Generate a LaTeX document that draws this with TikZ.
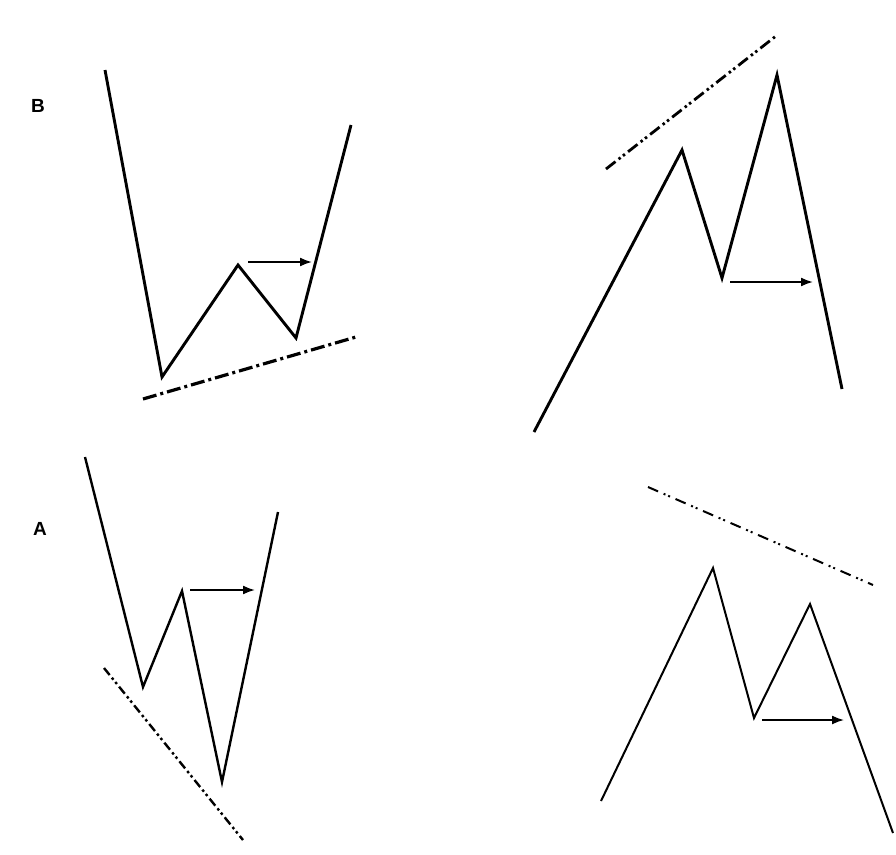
\documentclass[tikz,border=0pt]{standalone}
\usepackage{fontspec}
\setmainfont{Liberation Sans}
\usetikzlibrary{arrows.meta}
\begin{document}
\begin{tikzpicture}[x=1pt,y=-1pt,
  thick line/.style={line width=2.9pt,line join=miter,black},
  thin line/.style={line width=2.0pt,line join=miter,black},
  move arrow/.style={line width=1.8pt,-{Latex[length=12pt,width=9pt]}},
  ddot1/.style={line width=3.2pt,dash pattern=on 14pt off 4pt on 3pt off 4pt},
  ddot2/.style={line width=2.8pt,dash pattern=on 12pt off 4pt on 2.5pt off 3pt on 2.5pt off 4pt},
  ddot3/.style={line width=2.4pt,dash pattern=on 9pt off 3.5pt on 2.5pt off 3pt on 2.5pt off 3.5pt},
  ddot4/.style={line width=2.0pt,dash pattern=on 11pt off 6pt on 2pt off 3pt on 2pt off 6pt},
  lbl/.style={font=\bfseries\fontsize{19}{22}\selectfont,inner sep=0pt}]
\useasboundingbox (0,0) rectangle (896,854);
\fill[white] (0,0) rectangle (896,854);

% Panel B
\node[lbl] (labB) at (38,106) {B};
\coordinate (b1) at (105,70);
\coordinate (b2) at (162,377);
\coordinate (b3) at (238,265);
\coordinate (b4) at (296,338);
\coordinate (b5) at (351,125);
\draw[thick line] (b1) -- (b2) -- (b3) -- (b4) -- (b5);
\coordinate (ba1) at (248,262);
\coordinate (ba2) at (312,262);
\draw[move arrow] (ba1) -- (ba2);
\coordinate (bl1) at (143,399);
\coordinate (bl2) at (356,337);
\draw[ddot1] (bl1) -- (bl2);

% Top right panel
\coordinate (c1) at (534,432);
\coordinate (c2) at (682,150);
\coordinate (c3) at (722,278);
\coordinate (c4) at (777,75);
\coordinate (c5) at (842,389);
\draw[thick line] (c1) -- (c2) -- (c3) -- (c4) -- (c5);
\coordinate (ca1) at (730,282);
\coordinate (ca2) at (813,282);
\draw[move arrow] (ca1) -- (ca2);
\coordinate (cl1) at (606,169);
\coordinate (cl2) at (776,36);
\draw[ddot2] (cl1) -- (cl2);

% Panel A
\node[lbl] (labA) at (40,529) {A};
\coordinate (a1) at (85,457);
\coordinate (a2) at (143,687);
\coordinate (a3) at (182,591);
\coordinate (a4) at (222,782);
\coordinate (a5) at (278,512);
\draw[thin line,line width=2.4pt] (a1) -- (a2) -- (a3) -- (a4) -- (a5);
\coordinate (aa1) at (190,590);
\coordinate (aa2) at (255,590);
\draw[move arrow] (aa1) -- (aa2);
\coordinate (al1) at (104,668);
\coordinate (al2) at (243,840);
\draw[ddot3] (al1) -- (al2);

% Bottom right panel
\coordinate (d1) at (601,801);
\coordinate (d2) at (713,568);
\coordinate (d3) at (754,718);
\coordinate (d4) at (810,604);
\coordinate (d5) at (893,833);
\draw[thin line] (d1) -- (d2) -- (d3) -- (d4) -- (d5);
\coordinate (da1) at (762,720);
\coordinate (da2) at (844,720);
\draw[move arrow,line width=1.6pt] (da1) -- (da2);
\coordinate (dl1) at (648,487);
\coordinate (dl2) at (873,585);
\draw[ddot4] (dl1) -- (dl2);
\end{tikzpicture}
\end{document}
